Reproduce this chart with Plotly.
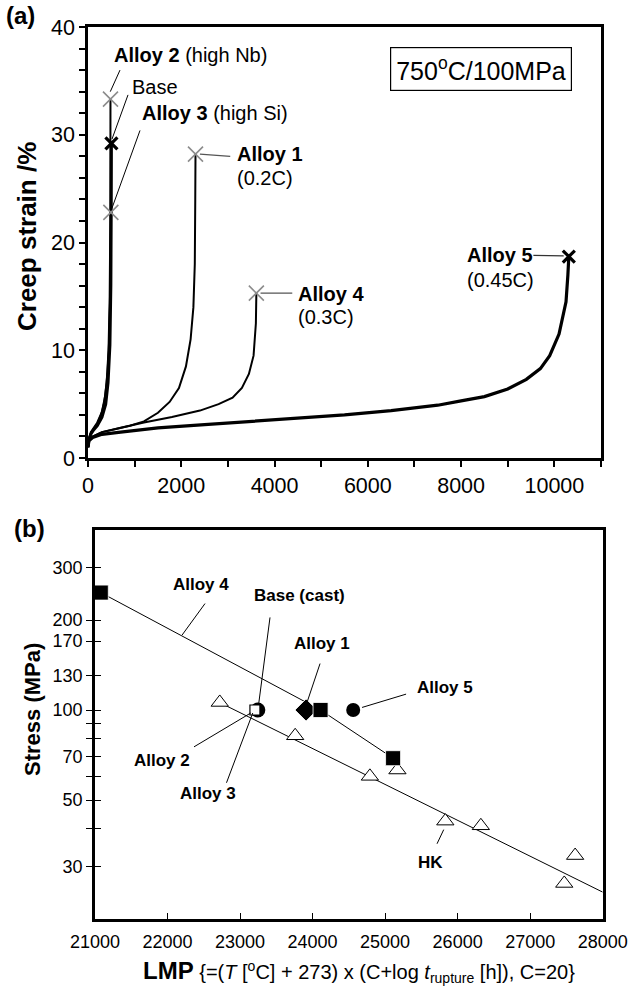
import math
import plotly.graph_objects as go

# ---------------- Panel (a): creep curves at 750 C / 100 MPa ----------------
t_alloy2 = [0, 20, 60, 120, 200, 280, 350, 400, 440, 465, 478, 482]
s_alloy2 = [1.0, 1.8, 2.3, 2.7, 3.2, 4.0, 5.2, 7.0, 10.0, 15.0, 22.0, 33.3]
t_base = [0, 20, 60, 120, 200, 300, 380, 430, 470, 490, 498, 502]
s_base = [1.0, 1.7, 2.2, 2.6, 3.0, 3.8, 5.0, 7.0, 10.5, 16.0, 23.0, 29.2]
t_alloy3 = [0, 20, 60, 120, 200, 300, 370, 420, 455, 475, 486, 490]
s_alloy3 = [1.1, 1.8, 2.4, 2.8, 3.3, 4.3, 5.8, 8.0, 11.0, 15.0, 19.5, 22.8]
t_alloy1 = [0, 20, 100, 300, 600, 900, 1200, 1500, 1750, 1950, 2100, 2200, 2260, 2290, 2300, 2305]
s_alloy1 = [1.0, 1.6, 2.0, 2.4, 2.7, 3.0, 3.4, 4.2, 5.2, 6.5, 8.5, 11.0, 14.0, 18.0, 24.0, 28.2]
t_alloy4 = [0, 20, 100, 300, 700, 1200, 1800, 2400, 2800, 3100, 3300, 3450, 3550, 3600, 3610]
s_alloy4 = [1.0, 1.6, 2.0, 2.4, 2.8, 3.3, 3.8, 4.4, 5.0, 5.6, 6.5, 7.8, 9.5, 12.5, 15.3]
t_alloy5 = [0, 20, 100, 300, 700, 1500, 2500, 3500, 4500, 5500, 6500, 7500, 8000, 8500, 9000,
            9400, 9700, 9900, 10100, 10250, 10290, 10310]
s_alloy5 = [1.0, 1.6, 1.9, 2.2, 2.4, 2.8, 3.1, 3.4, 3.7, 4.0, 4.4, 4.9, 5.3, 5.7, 6.4,
            7.3, 8.3, 9.5, 11.5, 14.5, 17.0, 18.7]

x_ticks_a = [0, 2000, 4000, 6000, 8000, 10000]
y_ticks_a = [0, 10, 20, 30, 40]

# ---------------- Panel (b): LMP plot ----------------
alloy4_lmp = [21080, 24110, 25110]
alloy4_stress = [247, 100, 69]
alloy1_lmp = [23910]
alloy1_stress = [100]
alloy5_lmp = [24560]
alloy5_stress = [100]
base_lmp = [23245]
base_stress = [100]
alloy2_lmp = [23205]
alloy2_stress = [100]
hk_lmp = [22720, 23760, 24790, 25170, 25830, 26320, 27470, 27620]
hk_stress = [106, 82, 60, 63, 42.5, 41, 26.3, 32.6]
hk_fit_lmp = [22750, 28000]
hk_fit_stress = [105, 24.6]

x_ticks_b = [21000, 22000, 23000, 24000, 25000, 26000, 27000, 28000]
y_ticks_b = [30, 40, 50, 60, 70, 80, 90, 100, 130, 170, 200, 300]
y_ticktext_b = ["30", " ", "50", " ", "70", " ", " ", "100", "130", "170", "200", "300"]

FONT = "Liberation Sans, Arial, sans-serif"
W, H = 632, 990

fig = go.Figure()

# panel (a) curves
curves = [
    (t_alloy5, s_alloy5, 3.2),
    (t_alloy4, s_alloy4, 2.0),
    (t_alloy1, s_alloy1, 2.0),
    (t_alloy3, s_alloy3, 2.0),
    (t_alloy2, s_alloy2, 2.0),
    (t_base, s_base, 3.0),
]
for tx, sy, lw in curves:
    fig.add_trace(go.Scatter(x=tx, y=sy, mode="lines", line=dict(color="black", width=lw),
                             xaxis="x", yaxis="y", hoverinfo="skip"))

grey_ends = [(t_alloy2, s_alloy2), (t_alloy3, s_alloy3), (t_alloy1, s_alloy1), (t_alloy4, s_alloy4)]
fig.add_trace(go.Scatter(x=[a[-1] for a, b in grey_ends], y=[b[-1] for a, b in grey_ends],
                         mode="markers", xaxis="x", yaxis="y",
                         marker=dict(symbol="x-thin", size=15, line=dict(color="#8c8c8c", width=1.6))))
black_ends = [(t_base, s_base), (t_alloy5, s_alloy5)]
fig.add_trace(go.Scatter(x=[a[-1] for a, b in black_ends], y=[b[-1] for a, b in black_ends],
                         mode="markers", xaxis="x", yaxis="y",
                         marker=dict(symbol="x-thin", size=12, line=dict(color="black", width=3.2))))

# panel (b)
L = lambda v: math.log10(v)
fig.add_trace(go.Scatter(x=hk_fit_lmp, y=hk_fit_stress, mode="lines", xaxis="x2", yaxis="y2",
                         line=dict(color="black", width=1)))
fig.add_trace(go.Scatter(x=alloy4_lmp, y=alloy4_stress, mode="lines", xaxis="x2", yaxis="y2",
                         line=dict(color="black", width=1)))
fig.add_trace(go.Scatter(x=hk_lmp, y=hk_stress, mode="markers", xaxis="x2", yaxis="y2",
                         marker=dict(symbol="triangle-up", size=15, color="white",
                                     line=dict(color="black", width=1))))
fig.add_trace(go.Scatter(x=base_lmp, y=base_stress, mode="markers", xaxis="x2", yaxis="y2",
                         marker=dict(symbol="circle", size=15, color="black")))
fig.add_trace(go.Scatter(x=alloy2_lmp, y=alloy2_stress, mode="markers", xaxis="x2", yaxis="y2",
                         marker=dict(symbol="square", size=10, color="white",
                                     line=dict(color="black", width=1.2))))
fig.add_trace(go.Scatter(x=alloy1_lmp, y=alloy1_stress, mode="markers", xaxis="x2", yaxis="y2",
                         marker=dict(symbol="diamond", size=17, color="black",
                                     line=dict(color="white", width=0.8))))
fig.add_trace(go.Scatter(x=alloy4_lmp, y=alloy4_stress, mode="markers", xaxis="x2", yaxis="y2",
                         marker=dict(symbol="square", size=15, color="black",
                                     line=dict(color="white", width=0.8))))
fig.add_trace(go.Scatter(x=alloy5_lmp, y=alloy5_stress, mode="markers", xaxis="x2", yaxis="y2",
                         marker=dict(symbol="circle", size=14, color="black")))
# invisible trace for inner-tick overlay axis
fig.add_trace(go.Scatter(x=[21000], y=[100], mode="markers", xaxis="x2", yaxis="y3",
                         marker=dict(size=1, opacity=0), hoverinfo="skip"))

def px2paper(px, py):
    return px / W, 1 - py / H

common = dict(showline=True, linecolor="black", linewidth=2.6, mirror=True, showgrid=False,
              zeroline=False, tickcolor="black", tickfont=dict(family=FONT, size=21.5, color="black"))
small = {**common, "tickfont": dict(family=FONT, size=18, color="black")}

fig.update_layout(
    width=W, height=H, margin=dict(l=0, r=0, t=0, b=0, autoexpand=False),
    paper_bgcolor="white", plot_bgcolor="white", showlegend=False,
    font=dict(family=FONT, color="black"),
    xaxis=dict(**common, domain=[88 / W, 601 / W], anchor="y", range=[0, 11000],
               tickvals=x_ticks_a, tickformat="d", ticks="outside", ticklen=6, tickwidth=1.5,
               minor=dict(dtick=1000, tick0=0, ticks="outside", ticklen=6, tickwidth=1.5, tickcolor="black")),
    yaxis=dict(**common, domain=[1 - 458 / H, 1 - 27 / H], anchor="x", range=[0, 40],
               tickvals=y_ticks_a, ticks="outside", ticklen=6, tickwidth=1.5,
               minor=dict(dtick=2, tick0=0, ticks="outside", ticklen=6, tickwidth=1.5, tickcolor="black")),
    xaxis2=dict(**small, domain=[95 / W, 602.7 / W], anchor="y2", range=[21000, 28000],
                tickvals=x_ticks_b, tickformat="d", ticks="inside", ticklen=6, tickwidth=1.2,
                ticklabelstandoff=5),
    yaxis2=dict(**small, domain=[1 - 919 / H, 1 - 530 / H], anchor="x2", type="log",
                range=[L(20), L(400)], tickvals=y_ticks_b, ticktext=y_ticktext_b,
                ticks="outside", ticklen=6, tickwidth=1.2),
    yaxis3=dict(overlaying="y2", anchor="x2", side="left", type="log", range=[L(20), L(400)],
                tickvals=y_ticks_b, ticks="inside", ticklen=6, tickwidth=1.2, tickcolor="black",
                showticklabels=False, showline=False, showgrid=False, zeroline=False),
)

ann = []
def txt(x, y, s, size, xref="x", yref="y", xanchor="left", yanchor="middle", **kw):
    ann.append(dict(x=x, y=y, text=s, xref=xref, yref=yref, xanchor=xanchor, yanchor=yanchor,
                    showarrow=False, font=dict(family=FONT, size=size, color="black"), **kw))

# axis titles and panel labels (paper coords)
px, py = px2paper(27, 237)
txt(px, py, "<b>Creep strain /%</b>", 26, "paper", "paper", "center", "middle", textangle=-90)
px, py = px2paper(32, 710)
txt(px, py, "<b>Stress (MPa)</b>", 22, "paper", "paper", "center", "middle", textangle=-90)
px, py = px2paper(359, 971)
txt(px, py, "<b><span style='font-size:24px'>LMP</span></b> {=(<i>T</i> [<sup>o</sup>C] + 273) x (C+log <i>t</i><sub>rupture</sub> [h]), C=20}",
    20, "paper", "paper", "center", "middle")
px, py = px2paper(4, 16)
txt(px, py, "<b>(a)</b>", 24, "paper", "paper", "left", "middle")
px, py = px2paper(12, 528)
txt(px, py, "<b>(b)</b>", 24, "paper", "paper", "left", "middle")
px, py = px2paper(480.5, 69.5)
ann.append(dict(x=px, y=py, xref="paper", yref="paper",
                text="750<sup>o</sup>C/100MPa", showarrow=False,
                xanchor="center", yanchor="middle", font=dict(family=FONT, size=25, color="black"),
                bordercolor="black", borderwidth=1.2, borderpad=5, bgcolor="white"))

# panel (a) labels
txt(515, 37.4, "<b>Alloy 2</b> (high Nb)", 20)
txt(900, 34.4, "Base", 20)
txt(1115, 32.0, "<b>Alloy 3</b> (high Si)", 20)
txt(3150, 28.2, "<b>Alloy 1</b>", 20)
txt(3150, 26.0, "(0.2C)", 20)
txt(4460, 15.2, "<b>Alloy 4</b>", 20)
txt(4460, 13.1, "(0.3C)", 20)
txt(8080, 18.8, "<b>Alloy 5</b>", 20)
txt(8080, 16.5, "(0.45C)", 20)

# panel (b) labels
txt(22460, L(263), "<b>Alloy 4</b>", 17, "x2", "y2", "center")
txt(23165, L(242), "<b>Base (cast)</b>", 17, "x2", "y2", "left")
txt(24130, L(167), "<b>Alloy 1</b>", 17, "x2", "y2", "center")
txt(25830, L(119), "<b>Alloy 5</b>", 17, "x2", "y2", "center")
txt(21920, L(68), "<b>Alloy 2</b>", 17, "x2", "y2", "center")
txt(22560, L(52.5), "<b>Alloy 3</b>", 17, "x2", "y2", "center")
txt(25620, L(30.9), "<b>HK</b>", 17, "x2", "y2", "center")
fig.update_layout(annotations=ann)

shapes = []
def seg(x0, y0, x1, y1, xref="x", yref="y", color="black", width=1):
    shapes.append(dict(type="line", x0=x0, y0=y0, x1=x1, y1=y1, xref=xref, yref=yref,
                       line=dict(color=color, width=width)))

# panel (a) leaders
seg(686, 36.0, 478, 34.0)
seg(858, 33.7, 515, 29.6)
seg(1115, 30.4, 515, 23.2)
seg(2400, 28.2, 3050, 28.0, color="#555555", width=1.2)
seg(3700, 15.3, 4380, 15.3, color="#555555", width=1.2)
seg(9550, 18.8, 10200, 18.75, color="#333333", width=1.2)
# panel (b) leaders (data values on log axis)
seg(22517, 227, 22200, 178, "x2", "y2")
seg(23413, 204, 23255, 104, "x2", "y2")
seg(24103, 143, 23923, 106, "x2", "y2")
seg(25289, 113, 24682, 102, "x2", "y2")
seg(22365, 75.3, 23147, 97.7, "x2", "y2")
seg(22813, 57.1, 23175, 97.7, "x2", "y2")
seg(25716, 35.7, 25808, 39.8, "x2", "y2")
fig.update_layout(shapes=shapes)

fig.write_html("out.html", post_script="document.body.style.margin='0';document.body.style.padding='0';")
